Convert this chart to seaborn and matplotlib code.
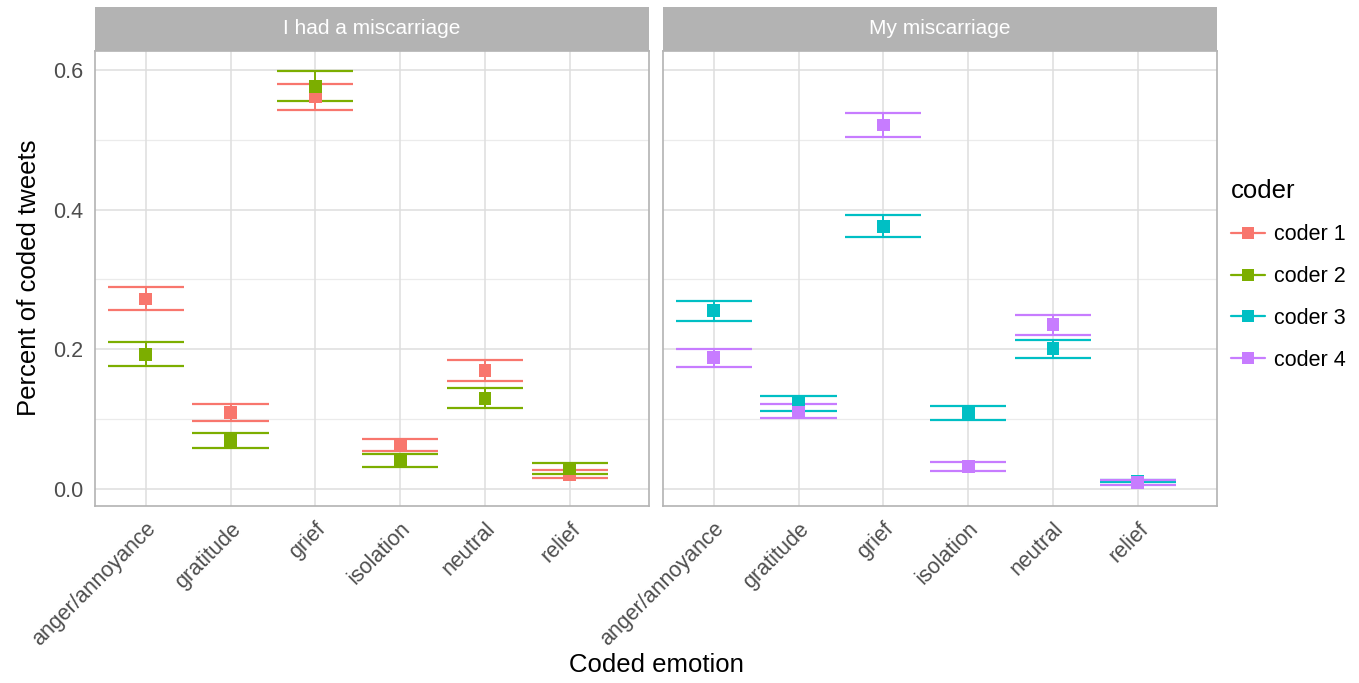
import matplotlib
matplotlib.use("Agg")
import matplotlib.pyplot as plt
from matplotlib.lines import Line2D
import pandas as pd
import seaborn as sns

emotions = ["anger/annoyance", "gratitude", "grief", "isolation", "neutral", "relief"]
panels = ["I had a miscarriage", "My miscarriage"]
coders = ["coder 1", "coder 2", "coder 3", "coder 4"]
coder_colors = ["#F8766D", "#7CAE00", "#00BFC4", "#C77CFF"]

# "I had a miscarriage"
coder1_pct = [0.272, 0.110, 0.562, 0.063, 0.170, 0.020]
coder1_lo = [0.256, 0.098, 0.543, 0.054, 0.155, 0.016]
coder1_hi = [0.289, 0.121, 0.580, 0.072, 0.184, 0.027]
coder2_pct = [0.193, 0.069, 0.576, 0.041, 0.130, 0.029]
coder2_lo = [0.176, 0.059, 0.555, 0.032, 0.116, 0.021]
coder2_hi = [0.210, 0.080, 0.599, 0.050, 0.145, 0.037]

# "My miscarriage"
coder3_pct = [0.255, 0.124, 0.376, 0.109, 0.201, 0.011]
coder3_lo = [0.241, 0.112, 0.361, 0.099, 0.188, 0.0095]
coder3_hi = [0.269, 0.133, 0.392, 0.119, 0.214, 0.013]
coder4_pct = [0.188, 0.110, 0.521, 0.032, 0.235, 0.0095]
coder4_lo = [0.175, 0.101, 0.504, 0.026, 0.220, 0.006]
coder4_hi = [0.201, 0.121, 0.538, 0.038, 0.249, 0.013]

rows = []
for panel, coder, pct, lo, hi in [
    (panels[0], coders[0], coder1_pct, coder1_lo, coder1_hi),
    (panels[0], coders[1], coder2_pct, coder2_lo, coder2_hi),
    (panels[1], coders[2], coder3_pct, coder3_lo, coder3_hi),
    (panels[1], coders[3], coder4_pct, coder4_lo, coder4_hi),
]:
    for e, p, l, h in zip(emotions, pct, lo, hi):
        rows.append({"phrase": panel, "emotion": e, "coder": coder,
                     "pct": p, "lo": l, "hi": h})
df = pd.DataFrame(rows)
df["xpos"] = df["emotion"].map({e: i for i, e in enumerate(emotions)})

sns.set_style("white")
plt.rcParams["font.family"] = ["Liberation Sans", "DejaVu Sans"]
plt.rcParams["text.color"] = "black"

W, H = 1359, 683
fig = plt.figure(figsize=(W / 100, H / 100), dpi=100)
palette = dict(zip(coders, coder_colors))

panel_left = [95, 663]
panel_w = 554
panel_top, panel_bottom = 51, 506
strip_top = 7
grey70 = "#B3B3B3"
for i, panel in enumerate(panels):
    ax = fig.add_axes([panel_left[i] / W, 1 - panel_bottom / H, panel_w / W,
                       (panel_bottom - panel_top) / H])
    sub = df[df["phrase"] == panel]
    ax.set_xlim(-0.598, 5.935)
    ax.set_ylim(-0.0243, 0.627)
    # grid like ggplot theme_light
    for yv in [0.1, 0.3, 0.5]:
        ax.axhline(yv, color="#EBEBEB", lw=0.9, zorder=0)
    for yv in [0.0, 0.2, 0.4, 0.6]:
        ax.axhline(yv, color="#DEDEDE", lw=1.1, zorder=0)
    for xv in range(len(emotions)):
        ax.axvline(xv, color="#DEDEDE", lw=1.1, zorder=0)
    for coder in sub["coder"].unique():
        c = sub[sub["coder"] == coder]
        col = palette[coder]
        ax.vlines(c["xpos"], c["lo"], c["hi"], color=col, lw=1.4, zorder=2)
        ax.hlines(c["lo"], c["xpos"] - 0.45, c["xpos"] + 0.45, color=col, lw=1.6, zorder=2)
        ax.hlines(c["hi"], c["xpos"] - 0.45, c["xpos"] + 0.45, color=col, lw=1.6, zorder=2)
    sns.scatterplot(data=sub, x="xpos", y="pct", hue="coder", palette=palette,
                    marker="s", s=85, linewidth=0, ax=ax, legend=False, zorder=3)
    ax.set_xticks(range(len(emotions)))
    ax.set_xticklabels(emotions, rotation=45, ha="right", va="top",
                       rotation_mode="anchor")
    ax.set_yticks([0.0, 0.2, 0.4, 0.6])
    ax.set_yticklabels(["0.0", "0.2", "0.4", "0.6"])
    ax.tick_params(axis="both", which="major", length=5, width=1, color=grey70,
                   labelcolor="#4D4D4D", labelsize=15.5, pad=3.5, direction="out")
    ax.tick_params(axis="x", pad=4)
    if i == 1:
        ax.tick_params(axis="y", left=False, labelleft=False)
    ax.set_xlabel("")
    ax.set_ylabel("")
    for sp in ax.spines.values():
        sp.set_color(grey70)
        sp.set_linewidth(1.2)

    sax = fig.add_axes([panel_left[i] / W, 1 - panel_top / H, panel_w / W,
                        (panel_top - strip_top) / H])
    sax.set_facecolor(grey70)
    sax.set_xticks([])
    sax.set_yticks([])
    for sp in sax.spines.values():
        sp.set_visible(False)
    sax.text(0.5, 0.5, panel, color="white", fontsize=15, ha="center",
             va="center", transform=sax.transAxes)

fig.text(29 / W, 1 - 278 / H, "Percent of coded tweets", rotation=90,
         ha="center", va="center", fontsize=18.5, color="black")
fig.text(656 / W, 1 - 665 / H, "Coded emotion", ha="center", va="center",
         fontsize=18.5, color="black")

handles = [Line2D([0], [0], color=col, lw=1.6, marker="s", markersize=9,
                  markeredgewidth=0) for col in coder_colors]
leg = fig.legend(handles, coders, title="coder", loc="upper left",
                 bbox_to_anchor=(1212 / W, 1 - 160 / H), frameon=False,
                 fontsize=15.5, title_fontsize=18.5, handlelength=1.55,
                 labelspacing=0.97, handletextpad=0.45, labelcolor="black")
leg.get_title().set_color("black")
leg._legend_box.align = "left"

fig.savefig("out.png", dpi=100)
